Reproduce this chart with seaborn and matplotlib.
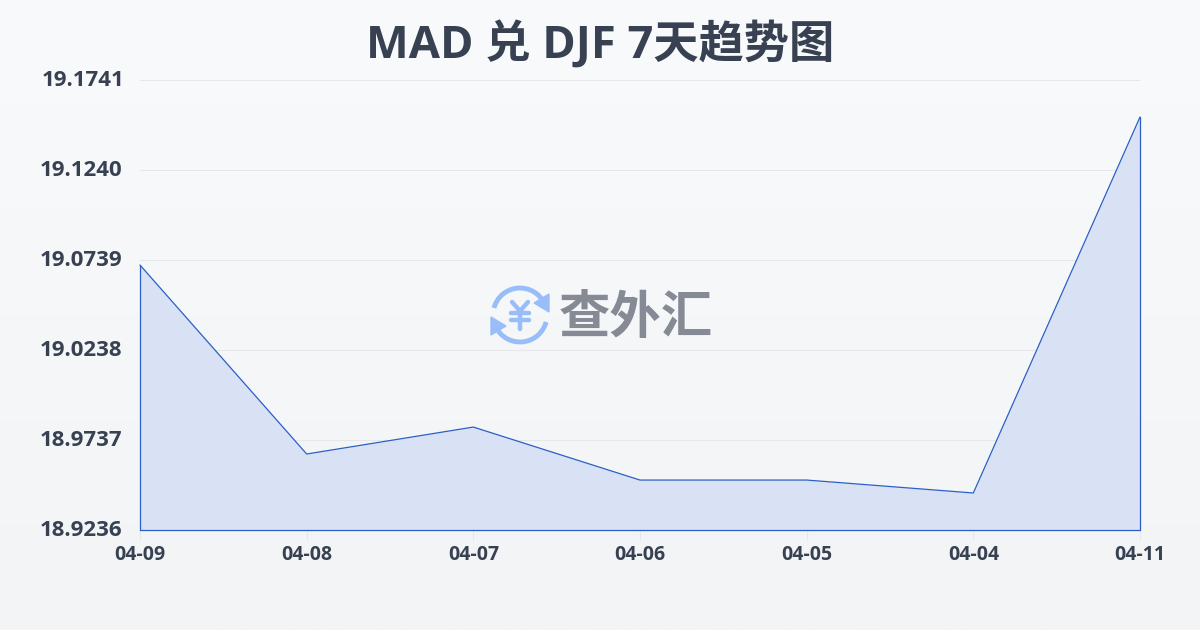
import numpy as np
import pandas as pd
import matplotlib
matplotlib.use('Agg')
import matplotlib.pyplot as plt
from matplotlib.patches import Arc, Polygon
from matplotlib.transforms import ScaledTranslation
import seaborn as sns

dates = ['04-09', '04-08', '04-07', '04-06', '04-05', '04-04', '04-11']
rates = [19.0711, 18.9659, 18.9809, 18.9514, 18.9514, 18.9442, 19.1535]
y_ticks = [18.9236, 18.9737, 19.0238, 19.0739, 19.1240, 19.1741]

TEXT = '#374151'
LINE = '#2b5fc7'

sns.set_theme(style='white')
plt.rcParams['font.family'] = ['Open Sans', 'Noto Sans CJK SC', 'DejaVu Sans']

df = pd.DataFrame({'date': dates, 'rate': rates, 'pos': range(len(dates))})

fig = plt.figure(figsize=(12, 6.3), dpi=100)

# page background, light vertical gradient
bg = fig.add_axes([0, 0, 1, 1], zorder=0)
bg.imshow(np.linspace(0, 1, 256).reshape(-1, 1), aspect='auto',
          cmap=matplotlib.colors.LinearSegmentedColormap.from_list('bg', ['#f9fafc', '#f3f4f6']))
bg.axis('off')

ax = fig.add_axes([140 / 1200, 1 - 530 / 630, 1000 / 1200, 450 / 630], zorder=1)
ax.patch.set_alpha(0)

ax.fill_between(df['pos'], df['rate'], y_ticks[0], color='#d9e2f5', zorder=2, lw=0)
sns.lineplot(data=df, x='pos', y='rate', ax=ax, color=LINE, lw=0.9, zorder=3, clip_on=False)
ax.plot([0, 0], [y_ticks[0], rates[0]], color=LINE, lw=0.9, zorder=3, clip_on=False)
ax.plot([6, 6], [y_ticks[0], rates[-1]], color=LINE, lw=0.9, zorder=3, clip_on=False)
ax.plot([0, 6], [y_ticks[0], y_ticks[0]], color=LINE, lw=0.9, zorder=3, clip_on=False)

ax.set_xlim(0, 6)
ax.set_ylim(y_ticks[0], y_ticks[-1])
ax.set_xlabel('')
ax.set_ylabel('')
ax.set_xticks(df['pos'])
ax.set_xticklabels(dates, fontsize=14, fontweight='bold', color=TEXT)
ax.set_yticks(y_ticks)
ax.set_yticklabels([f'{v:.4f}' for v in y_ticks], fontsize=16, fontweight='bold', color=TEXT)
ax.tick_params(axis='x', length=7, width=0.8, color='#e5e7eb', pad=3.5, bottom=True)
ax.tick_params(axis='y', length=0, pad=12.5)
ax.yaxis.grid(True, color='#e5e7eb', lw=0.8)
ax.set_axisbelow(True)
sns.despine(ax=ax, left=True, bottom=True)

# tick labels sit a little above their gridlines, the top one a little to the right
for lab in ax.get_yticklabels():
    dx = 2 if lab.get_text() == '19.1741' else 0
    lab.set_transform(lab.get_transform() + ScaledTranslation(dx / 100, 2 / 100, fig.dpi_scale_trans))

fig.text(0.5, 1 - 46 / 630, 'MAD 兑 DJF 7天趋势图', ha='center', va='center',
         fontsize=32.6, fontweight='bold', color=TEXT)

# watermark: round arrows with yen sign, then the name
wm = fig.add_axes([0, 0, 1, 1], zorder=4)
wm.set_xlim(0, 1200)
wm.set_ylim(630, 0)
wm.axis('off')
BLUE = '#98bdf8'
wm.add_patch(Arc((520, 315), 54, 54, theta1=195, theta2=335, color=BLUE, lw=3.5))
wm.add_patch(Arc((520, 315), 54, 54, theta1=15, theta2=155, color=BLUE, lw=3.5))
wm.add_patch(Polygon([(549, 294), (549, 312), (534, 303)], color=BLUE))
wm.add_patch(Polygon([(491, 317), (491, 335), (506, 326)], color=BLUE))
for xs, ys in [([512, 520, 528], [302, 311, 302]), ([520, 520], [311, 329]),
               ([511, 529], [313, 313]), ([511, 529], [320, 320])]:
    wm.plot(xs, ys, color=BLUE, lw=3.2, solid_capstyle='round', solid_joinstyle='round')
wm.text(636, 320, '查外汇', ha='center', va='center', fontsize=37, fontweight='bold', color='#858a94')

fig.savefig('out.png', dpi=100)
